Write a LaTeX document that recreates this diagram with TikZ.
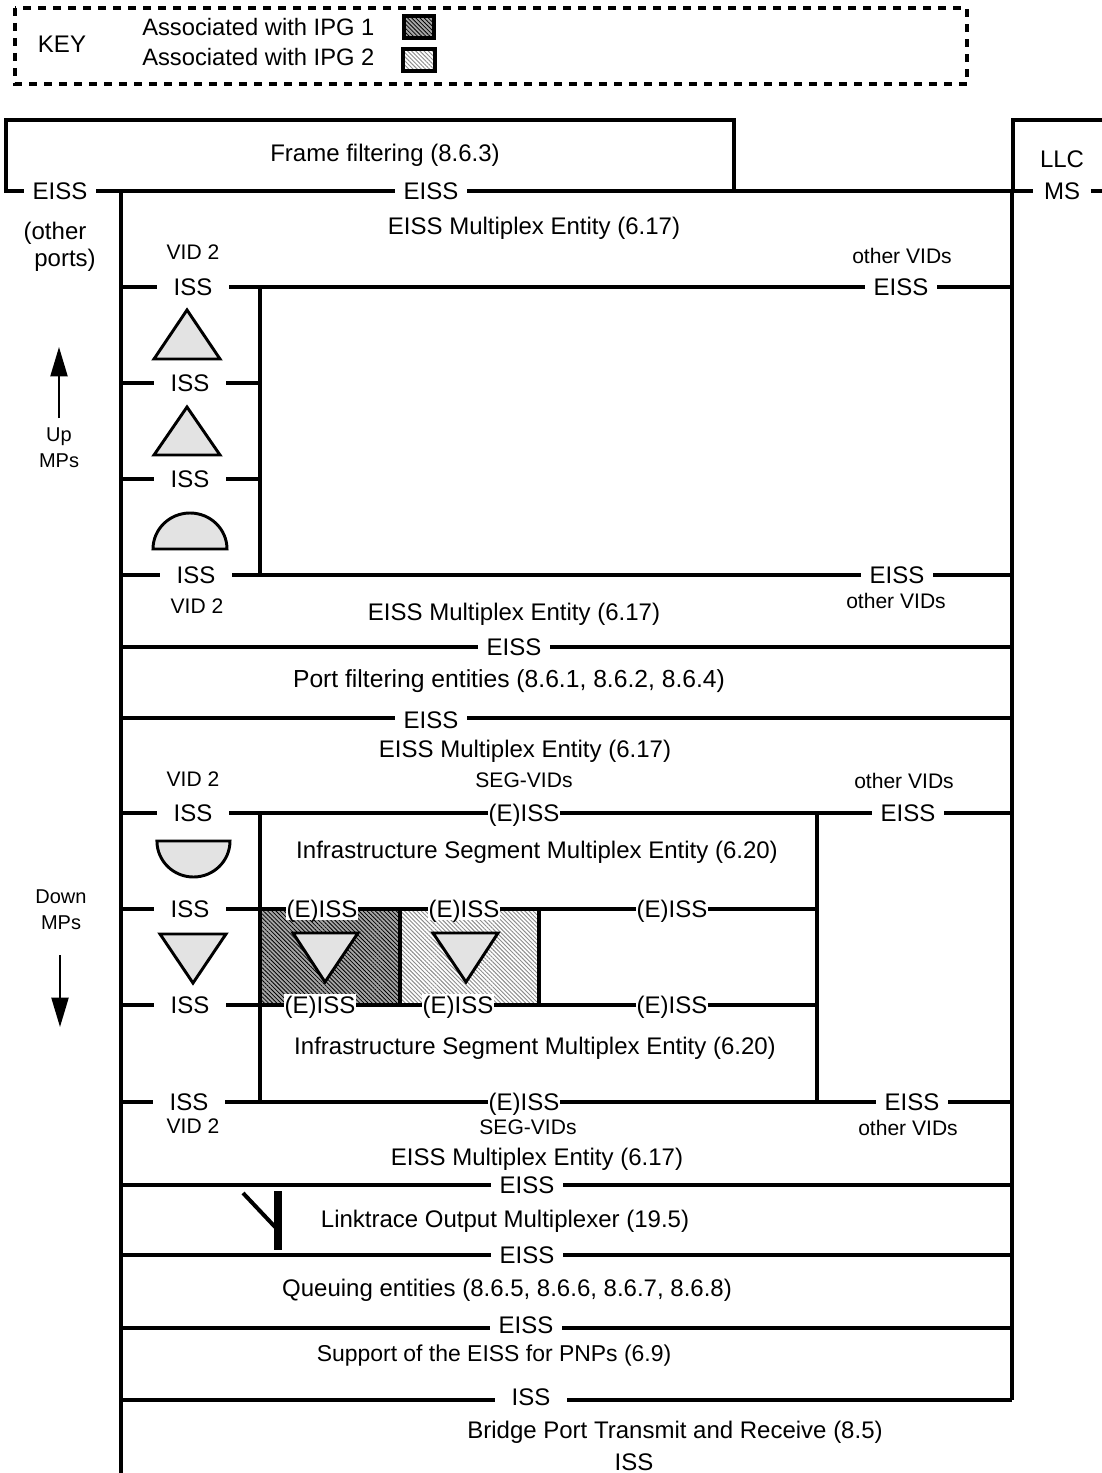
\documentclass[tikz,border=0pt]{standalone}
\usepackage{fontspec}
\setmainfont{Liberation Sans}
\usetikzlibrary{arrows.meta,patterns.meta}
\tikzset{
  txt/.style={font=\fontsize{18}{21}\selectfont,inner sep=0pt,text height=12.7pt,text depth=0pt},
  small/.style={font=\fontsize{15.8}{19}\selectfont,inner sep=0pt,text height=11.4pt,text depth=0pt},
  tiny/.style={font=\fontsize{15}{18}\selectfont,inner sep=0pt,text height=10.8pt,text depth=0pt},
  port/.style={txt,minimum width=54pt},
  eport/.style={txt,minimum width=54pt,minimum height=17pt,fill=white},
  wire/.style={line width=2.3pt},
  heavy/.style={line width=2.4pt},
  thickwire/.style={line width=3pt},
  mpshape/.style={draw,line width=2.2pt,fill=black!11},
  updown/.style={line width=1.5pt,-{Triangle[length=22pt,width=12.75pt]}},
  ipgone/.style={preaction={fill=black!35},pattern={Lines[angle=-45,distance=2.2pt,line width=.6pt]},pattern color=black},
  ipgtwo/.style={preaction={fill=white},pattern={Lines[angle=-45,distance=2.2pt,line width=.7pt]},pattern color=black!45}
}
\begin{document}
\begin{tikzpicture}[x=0.75pt,y=-0.75pt]
    \useasboundingbox (0,0) rectangle (1102,1473);

    % hatched IPG blocks
    \fill[ipgone] (260,909) rectangle (400,1005);
    \fill[ipgtwo] (400,909) rectangle (539,1005);

    % key
    \draw[heavy, dash pattern=on 6pt off 5.25pt] (15,8) rectangle (967,84);
    \node[txt] (keytitle) at (62,44) {KEY};
    \node[txt, font=\fontsize{17.8}{21}\selectfont, anchor=west] (keyone) at (142,27) {Associated with IPG 1};
    \node[txt, font=\fontsize{17.8}{21}\selectfont, anchor=west] (keytwo) at (142,57) {Associated with IPG 2};
    \draw[heavy, ipgone] (404,16) rectangle (434,38);
    \draw[heavy, ipgtwo] (403,49) rectangle (435,71);

    % rails
    \coordinate (raill) at (121,191);
    \coordinate (railr) at (1012,191);
    \coordinate (railu) at (260,287);
    \coordinate (rails) at (817,813);
    \coordinate (ipgmid) at (400,909);
    \coordinate (ipgend) at (539,909);

    % top entities
    \node[port] (eissother) at (60,191) {EISS};
    \node[port] (eisstop) at (431,191) {EISS};
    \node[port, minimum width=43pt] (mstop) at (1062,191) {MS};
    \node[txt] (framefilter) at (385,153) {Frame filtering (8.6.3)};
    \node[txt] (llc) at (1062,159) {LLC};
    \node[txt] (otherlbl) at (55,231) {(other};
    \node[txt] (portslbl) at (65,258) {ports)};
    \node[txt] (muxa) at (534,226) {EISS Multiplex Entity (6.17)};
    \coordinate (frametl) at (6,120);
    \coordinate (frametr) at (734,120);
    \coordinate (llctl) at (1013,120);
    \coordinate (llctr) at (1102,120);
    \draw[heavy] (eissother) -- (frametl |- eissother) -- (frametl) -- (frametr) -- (frametr |- eisstop);
    \draw[heavy] (eissother) -- (eisstop);
    \draw[heavy] (eisstop) -- (mstop);
    \draw[heavy] (mstop) -- (llctr |- mstop);
    \draw[heavy] (llctr) -- (llctl) -- (llctl |- mstop);

    % up MPs
    \node[small] (vidua) at (193,252) {VID 2};
    \node[small] (otherua) at (902,256) {other VIDs};
    \node[port] (issua) at (193,287) {ISS};
    \node[port] (issub) at (190,383) {ISS};
    \node[port] (issuc) at (190,479) {ISS};
    \node[port] (issud) at (196,575) {ISS};
    \node[port] (eissua) at (901,287) {EISS};
    \node[port] (eissub) at (897,575) {EISS};
    \node[small] (vidub) at (197,606) {VID 2};
    \node[small] (otherub) at (896,601) {other VIDs};
    \draw[wire] (raill |- issua) -- (issua);
    \draw[wire] (issua) -- (eissua);
    \draw[wire] (eissua) -- (railr |- eissua);
    \draw[wire] (raill |- issub) -- (issub);
    \draw[wire] (issub) -- (railu |- issub);
    \draw[wire] (raill |- issuc) -- (issuc);
    \draw[wire] (issuc) -- (railu |- issuc);
    \draw[wire] (raill |- issud) -- (issud);
    \draw[wire] (issud) -- (eissub);
    \draw[wire] (eissub) -- (railr |- eissub);
    \draw[heavy] (railu) -- (railu |- issud);
    \draw[mpshape] (187,310) -- (220,359) -- (154,359) -- cycle;
    \draw[mpshape] (187,407) -- (220,455) -- (154,455) -- cycle;
    \draw[mpshape] (153,549) arc[start angle=180,end angle=0,x radius=27.75pt,y radius=27pt] -- cycle;

    \node[tiny] (uplbl) at (59,434) {Up};
    \node[tiny] (mpsu) at (59,460) {MPs};
    \coordinate (upfoot) at (59,418);
    \coordinate (uptip) at (59,347);
    \draw[updown] (upfoot) -- (uptip);

    % port filtering
    \node[txt] (muxb) at (514,612) {EISS Multiplex Entity (6.17)};
    \node[port] (eissf) at (514,647) {EISS};
    \node[txt, font=\fontsize{18.5}{21}\selectfont] (portfilter) at (509,679) {Port filtering entities (8.6.1, 8.6.2, 8.6.4)};
    \node[port] (eissg) at (431,720) {EISS};
    \coordinate (railg) at (121,718);
    \draw[wire] (raill |- eissf) -- (eissf);
    \draw[wire] (eissf) -- (railr |- eissf);
    \draw[wire] (railg) -- (eissg.west |- railg);
    \draw[wire] (eissg.east |- railg) -- (railr |- railg);

    % down MPs
    \node[txt] (muxc) at (525,749) {EISS Multiplex Entity (6.17)};
    \node[small] (vidda) at (193,779) {VID 2};
    \node[small] (segda) at (524,780) {SEG-VIDs};
    \node[small] (otherda) at (904,781) {other VIDs};
    \node[port] (issda) at (193,813) {ISS};
    \node[eport] (segtop) at (524,813) {(E)ISS};
    \node[port] (eissda) at (908,813) {EISS};
    \node[txt] (infraa) at (537,850) {Infrastructure Segment Multiplex Entity (6.20)};
    \node[port] (issdb) at (190,909) {ISS};
    \node[port] (issdc) at (190,1005) {ISS};
    \node[port] (issdd) at (189,1102) {ISS};
    \node[eport] (ea) at (322,909) {(E)ISS};
    \node[eport] (eb) at (464,909) {(E)ISS};
    \node[eport] (ec) at (672,909) {(E)ISS};
    \node[eport] (ed) at (320,1005) {(E)ISS};
    \node[eport] (ee) at (458,1005) {(E)ISS};
    \node[eport] (ef) at (672,1005) {(E)ISS};
    \node[txt] (infrab) at (535,1046) {Infrastructure Segment Multiplex Entity (6.20)};
    \node[eport] (segbot) at (524,1102) {(E)ISS};
    \node[port] (eissdb) at (912,1102) {EISS};
    \node[small] (viddb) at (193,1126) {VID 2};
    \node[small] (segdb) at (528,1127) {SEG-VIDs};
    \node[small] (otherdb) at (908,1128) {other VIDs};
    \draw[wire] (raill |- issda) -- (issda);
    \draw[wire] (issda) -- (segtop);
    \draw[wire] (segtop) -- (eissda);
    \draw[wire] (eissda) -- (railr |- eissda);
    \draw[wire] (raill |- issdb) -- (issdb);
    \draw[wire] (issdb) -- (ea);
    \draw[wire] (ea) -- (eb);
    \draw[wire] (eb) -- (ec);
    \draw[wire] (ec) -- (rails |- ec);
    \draw[wire] (raill |- issdc) -- (issdc);
    \draw[wire] (issdc) -- (ed);
    \draw[wire] (ed) -- (ee);
    \draw[wire] (ee) -- (ef);
    \draw[wire] (ef) -- (rails |- ef);
    \draw[wire] (raill |- issdd) -- (issdd);
    \draw[wire] (issdd) -- (railu |- issdd);
    \draw[thickwire] (railu |- issdd) -- (segbot);
    \draw[thickwire] (segbot) -- (eissdb);
    \draw[thickwire] (eissdb) -- (railr |- eissdb);
    \draw[heavy] (railu |- issda) -- (railu |- issdd);
    \draw[heavy] (rails) -- (rails |- issdd);
    \draw[heavy] (ipgmid) -- (ipgmid |- ed);
    \draw[heavy] (ipgend) -- (ipgend |- ed);
    \draw[mpshape] (157,841) -- (230,841) arc[start angle=0,end angle=-180,x radius=27.4pt,y radius=27pt] -- cycle;
    \draw[mpshape] (160,934) -- (226,934) -- (193,983) -- cycle;
    \draw[mpshape] (293,933) -- (358,933) -- (325,982) -- cycle;
    \draw[mpshape] (433,933) -- (498,933) -- (466,982) -- cycle;

    \node[tiny] (downlbl) at (61,896) {Down};
    \node[tiny] (mpsd) at (61,922) {MPs};
    \coordinate (downfoot) at (60,955);
    \coordinate (downtip) at (60,1027);
    \draw[updown] (downfoot) -- (downtip);

    % lower stack
    \node[txt] (muxd) at (537,1157) {EISS Multiplex Entity (6.17)};
    \node[port] (eisslt) at (527,1185) {EISS};
    \node[txt] (linktrace) at (505,1219) {Linktrace Output Multiplexer (19.5)};
    \node[port] (eissq) at (527,1255) {EISS};
    \node[txt] (queuing) at (507,1288) {Queuing entities (8.6.5, 8.6.6, 8.6.7, 8.6.8)};
    \node[port] (eisspnp) at (526,1325) {EISS};
    \coordinate (railp) at (121,1328);
    \node[txt, font=\fontsize{17.2}{21}\selectfont] (support) at (494,1353) {Support of the EISS for PNPs (6.9)};
    \node[port] (issbot) at (531,1397) {ISS};
    \coordinate (railb) at (121,1400);
    \node[txt] (bridge) at (675,1430) {Bridge Port Transmit and Receive (8.5)};
    \node[txt] (issend) at (634,1462) {ISS};
    \draw[wire] (raill |- eisslt) -- (eisslt);
    \draw[wire] (eisslt) -- (railr |- eisslt);
    \draw[wire] (raill |- eissq) -- (eissq);
    \draw[wire] (eissq) -- (railr |- eissq);
    \draw[wire] (railp) -- (eisspnp.west |- railp);
    \draw[wire] (eisspnp.east |- railp) -- (railr |- railp);
    \draw[wire] (railb) -- (issbot.west |- railb);
    \draw[wire] (issbot.east |- railb) -- (railr |- railb);

    % linktrace multiplexer mark
    \draw[line width=6pt] (278,1191) -- (278,1250);
    \draw[line width=3pt] (243,1193) -- (277,1229);

    % long verticals
    \coordinate (lbot) at (121,1473);
    \draw[heavy] (raill) -- (lbot);
    \draw[heavy] (railr) -- (railr |- railb);
\end{tikzpicture}
\end{document}
